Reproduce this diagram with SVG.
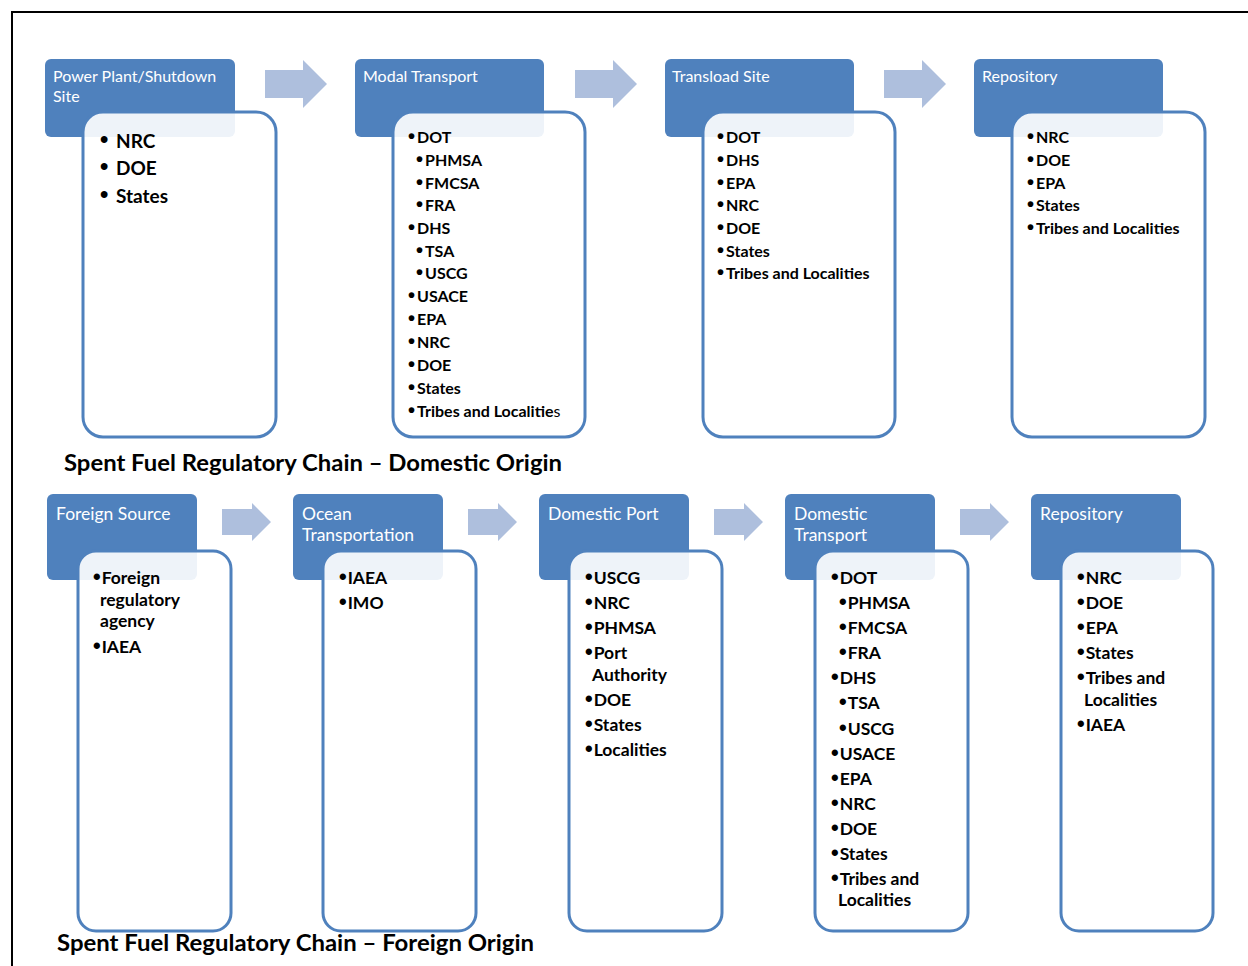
<svg xmlns="http://www.w3.org/2000/svg" width="1248" height="966" viewBox="0 0 1248 966">
<style>
.hd{fill:#4F81BD}
.bx{fill:#FFFFFF;fill-opacity:0.9;stroke:#4F81BD;stroke-width:3}
.ar{fill:#AEBFDD}
.ht{font-family:Lato,"Liberation Sans",sans-serif;fill:#FFFFFF;font-size:16px}
.hb{font-family:Lato,"Liberation Sans",sans-serif;fill:#FFFFFF;font-size:17.5px}
.t1{font-family:Lato,"Liberation Sans",sans-serif;font-weight:bold;fill:#000;font-size:19px}
.t2{font-family:Lato,"Liberation Sans",sans-serif;font-weight:bold;fill:#000;font-size:16px}
.t3{font-family:Lato,"Liberation Sans",sans-serif;font-weight:bold;fill:#000;font-size:17.5px}
.ti{font-family:Lato,"Liberation Sans",sans-serif;font-weight:bold;fill:#000;font-size:23px}
.b{font-family:"Liberation Sans",sans-serif;font-weight:bold;font-size:125%}
</style>
<rect width="1248" height="966" fill="#FFFFFF"/>
<path d="M12 966 V12 H1248" fill="none" stroke="#000" stroke-width="2"/>

<g id="connectors">
<path class="ar" d="M265 70 H303 V60 L327 84 L303 108 V98 H265 Z"/>
<path class="ar" d="M575 70 H613 V60 L637 84 L613 108 V98 H575 Z"/>
<path class="ar" d="M884 70 H922 V60 L946 84 L922 108 V98 H884 Z"/>
<path class="ar" d="M222 509 H252 V503 L271 522 L252 541 V535 H222 Z"/>
<path class="ar" d="M468 509 H498 V503 L517 522 L498 541 V535 H468 Z"/>
<path class="ar" d="M714 509 H744 V503 L763 522 L744 541 V535 H714 Z"/>
<path class="ar" d="M960 509 H990 V503 L1009 522 L990 541 V535 H960 Z"/>
</g>

<g id="n1">
<rect class="hd" x="45" y="59" width="190" height="78" rx="6"/>
<rect class="bx" x="83" y="112" width="193" height="325" rx="20"/>
<text class="ht" x="53" y="82">Power Plant/Shutdown</text>
<text class="ht" x="53" y="102">Site</text>
<text class="t1" x="100" y="148"><tspan class="b">•</tspan><tspan x="116">NRC</tspan></text>
<text class="t1" x="100" y="175"><tspan class="b">•</tspan><tspan x="116">DOE</tspan></text>
<text class="t1" x="100" y="203"><tspan class="b">•</tspan><tspan x="116">States</tspan></text>
</g>

<g id="n2">
<rect class="hd" x="355" y="59" width="189" height="78" rx="6"/>
<rect class="bx" x="393" y="112" width="192" height="325" rx="20"/>
<text class="ht" x="363" y="82">Modal Transport</text>
<text class="t2" x="408" y="143"><tspan class="b">•</tspan><tspan dx="2">DOT</tspan></text>
<text class="t2" x="416" y="166"><tspan class="b">•</tspan><tspan dx="2">PHMSA</tspan></text>
<text class="t2" x="416" y="189"><tspan class="b">•</tspan><tspan dx="2">FMCSA</tspan></text>
<text class="t2" x="416" y="211"><tspan class="b">•</tspan><tspan dx="2">FRA</tspan></text>
<text class="t2" x="408" y="234"><tspan class="b">•</tspan><tspan dx="2">DHS</tspan></text>
<text class="t2" x="416" y="257"><tspan class="b">•</tspan><tspan dx="2">TSA</tspan></text>
<text class="t2" x="416" y="279"><tspan class="b">•</tspan><tspan dx="2">USCG</tspan></text>
<text class="t2" x="408" y="302"><tspan class="b">•</tspan><tspan dx="2">USACE</tspan></text>
<text class="t2" x="408" y="325"><tspan class="b">•</tspan><tspan dx="2">EPA</tspan></text>
<text class="t2" x="408" y="348"><tspan class="b">•</tspan><tspan dx="2">NRC</tspan></text>
<text class="t2" x="408" y="371"><tspan class="b">•</tspan><tspan dx="2">DOE</tspan></text>
<text class="t2" x="408" y="394"><tspan class="b">•</tspan><tspan dx="2">States</tspan></text>
<text class="t2" x="408" y="417"><tspan class="b">•</tspan><tspan dx="2">Tribes and Localitie</tspan><tspan font-weight="normal">s</tspan></text>
</g>

<g id="n3">
<rect class="hd" x="665" y="59" width="189" height="78" rx="6"/>
<rect class="bx" x="703" y="112" width="192" height="325" rx="20"/>
<text class="ht" x="672" y="82">Transload Site</text>
<text class="t2" x="717" y="143"><tspan class="b">•</tspan><tspan dx="2">DOT</tspan></text>
<text class="t2" x="717" y="166"><tspan class="b">•</tspan><tspan dx="2">DHS</tspan></text>
<text class="t2" x="717" y="189"><tspan class="b">•</tspan><tspan dx="2">EPA</tspan></text>
<text class="t2" x="717" y="211"><tspan class="b">•</tspan><tspan dx="2">NRC</tspan></text>
<text class="t2" x="717" y="234"><tspan class="b">•</tspan><tspan dx="2">DOE</tspan></text>
<text class="t2" x="717" y="257"><tspan class="b">•</tspan><tspan dx="2">States</tspan></text>
<text class="t2" x="717" y="279"><tspan class="b">•</tspan><tspan dx="2">Tribes and Localities</tspan></text>
</g>

<g id="n4">
<rect class="hd" x="974" y="59" width="189" height="78" rx="6"/>
<rect class="bx" x="1012" y="112" width="193" height="325" rx="20"/>
<text class="ht" x="982" y="82">Repository</text>
<text class="t2" x="1027" y="143"><tspan class="b">•</tspan><tspan dx="2">NRC</tspan></text>
<text class="t2" x="1027" y="166"><tspan class="b">•</tspan><tspan dx="2">DOE</tspan></text>
<text class="t2" x="1027" y="189"><tspan class="b">•</tspan><tspan dx="2">EPA</tspan></text>
<text class="t2" x="1027" y="211"><tspan class="b">•</tspan><tspan dx="2">States</tspan></text>
<text class="t2" x="1027" y="234"><tspan class="b">•</tspan><tspan dx="2">Tribes and Localities</tspan></text>
</g>

<text class="ti" x="64" y="471" textLength="498" lengthAdjust="spacingAndGlyphs">Spent Fuel Regulatory Chain – Domestic Origin</text>

<g id="m1">
<rect class="hd" x="47" y="494" width="150" height="86" rx="6"/>
<rect class="bx" x="78" y="551" width="153" height="380" rx="18"/>
<text class="hb" x="56" y="520">Foreign Source</text>
<text class="t3" x="93" y="584"><tspan class="b">•</tspan><tspan dx="1">Foreign</tspan></text>
<text class="t3" x="100" y="606">regulatory</text>
<text class="t3" x="100" y="627">agency</text>
<text class="t3" x="93" y="653"><tspan class="b">•</tspan><tspan dx="1">IAEA</tspan></text>
</g>

<g id="m2">
<rect class="hd" x="293" y="494" width="150" height="86" rx="6"/>
<rect class="bx" x="323" y="551" width="153" height="380" rx="18"/>
<text class="hb" x="302" y="520">Ocean</text>
<text class="hb" x="302" y="541">Transportation</text>
<text class="t3" x="339" y="584"><tspan class="b">•</tspan><tspan dx="1">IAEA</tspan></text>
<text class="t3" x="339" y="609"><tspan class="b">•</tspan><tspan dx="1">IMO</tspan></text>
</g>

<g id="m3">
<rect class="hd" x="539" y="494" width="150" height="86" rx="6"/>
<rect class="bx" x="569" y="551" width="153" height="380" rx="18"/>
<text class="hb" x="548" y="520">Domestic Port</text>
<text class="t3" x="585" y="584"><tspan class="b">•</tspan><tspan dx="1">USCG</tspan></text>
<text class="t3" x="585" y="609"><tspan class="b">•</tspan><tspan dx="1">NRC</tspan></text>
<text class="t3" x="585" y="634"><tspan class="b">•</tspan><tspan dx="1">PHMSA</tspan></text>
<text class="t3" x="585" y="659"><tspan class="b">•</tspan><tspan dx="1">Port</tspan></text>
<text class="t3" x="592" y="681">Authority</text>
<text class="t3" x="585" y="706"><tspan class="b">•</tspan><tspan dx="1">DOE</tspan></text>
<text class="t3" x="585" y="731"><tspan class="b">•</tspan><tspan dx="1">States</tspan></text>
<text class="t3" x="585" y="756"><tspan class="b">•</tspan><tspan dx="1">Localities</tspan></text>
</g>

<g id="m4">
<rect class="hd" x="785" y="494" width="150" height="86" rx="6"/>
<rect class="bx" x="815" y="551" width="153" height="380" rx="18"/>
<text class="hb" x="794" y="520">Domestic</text>
<text class="hb" x="794" y="541">Transport</text>
<text class="t3" x="831" y="584"><tspan class="b">•</tspan><tspan dx="1">DOT</tspan></text>
<text class="t3" x="839" y="609"><tspan class="b">•</tspan><tspan dx="1">PHMSA</tspan></text>
<text class="t3" x="839" y="634"><tspan class="b">•</tspan><tspan dx="1">FMCSA</tspan></text>
<text class="t3" x="839" y="659"><tspan class="b">•</tspan><tspan dx="1">FRA</tspan></text>
<text class="t3" x="831" y="684"><tspan class="b">•</tspan><tspan dx="1">DHS</tspan></text>
<text class="t3" x="839" y="709"><tspan class="b">•</tspan><tspan dx="1">TSA</tspan></text>
<text class="t3" x="839" y="735"><tspan class="b">•</tspan><tspan dx="1">USCG</tspan></text>
<text class="t3" x="831" y="760"><tspan class="b">•</tspan><tspan dx="1">USACE</tspan></text>
<text class="t3" x="831" y="785"><tspan class="b">•</tspan><tspan dx="1">EPA</tspan></text>
<text class="t3" x="831" y="810"><tspan class="b">•</tspan><tspan dx="1">NRC</tspan></text>
<text class="t3" x="831" y="835"><tspan class="b">•</tspan><tspan dx="1">DOE</tspan></text>
<text class="t3" x="831" y="860"><tspan class="b">•</tspan><tspan dx="1">States</tspan></text>
<text class="t3" x="831" y="885"><tspan class="b">•</tspan><tspan dx="1">Tribes and</tspan></text>
<text class="t3" x="838" y="906">Localities</text>
</g>

<g id="m5">
<rect class="hd" x="1031" y="494" width="150" height="86" rx="6"/>
<rect class="bx" x="1061" y="551" width="152" height="380" rx="18"/>
<text class="hb" x="1040" y="520">Repository</text>
<text class="t3" x="1077" y="584"><tspan class="b">•</tspan><tspan dx="1">NRC</tspan></text>
<text class="t3" x="1077" y="609"><tspan class="b">•</tspan><tspan dx="1">DOE</tspan></text>
<text class="t3" x="1077" y="634"><tspan class="b">•</tspan><tspan dx="1">EPA</tspan></text>
<text class="t3" x="1077" y="659"><tspan class="b">•</tspan><tspan dx="1">States</tspan></text>
<text class="t3" x="1077" y="684"><tspan class="b">•</tspan><tspan dx="1">Tribes and</tspan></text>
<text class="t3" x="1084" y="706">Localities</text>
<text class="t3" x="1077" y="731"><tspan class="b">•</tspan><tspan dx="1">IAEA</tspan></text>
</g>

<text class="ti" x="57" y="951" textLength="477" lengthAdjust="spacingAndGlyphs">Spent Fuel Regulatory Chain – Foreign Origin</text>
</svg>
